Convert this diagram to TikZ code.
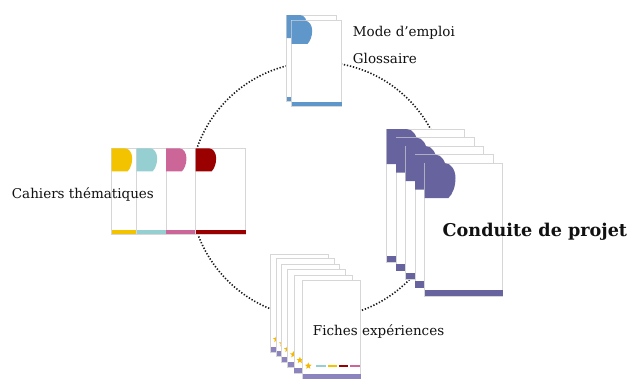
\documentclass[tikz,border=0pt]{standalone}
\usepackage{fontspec}
\setmainfont{DejaVu Serif}
\usetikzlibrary{shapes.geometric}
\definecolor{pageline}{HTML}{D6D6D6}
\definecolor{blueglo}{HTML}{6097CB}
\definecolor{conduite}{HTML}{67639F}
\definecolor{fichebar}{HTML}{8B84BF}
\definecolor{cyellow}{HTML}{F4C300}
\definecolor{ccyan}{HTML}{96CFD1}
\definecolor{cpink}{HTML}{CC6699}
\definecolor{cred}{HTML}{9B0000}
\definecolor{staryellow}{HTML}{F2B705}
\definecolor{txt}{HTML}{111111}
\newcommand{\docpage}[4]{\filldraw[pagebox] (#1,#2) rectangle ++(#3,#4);}
\newcommand{\doctab}[4]{\begin{scope}[shift={(#1,#2)},scale=#3]\fill[#4] (0,0) -- (20,0) .. controls (26.5,0) and (31,7) .. (31,15) .. controls (31,24) and (28,31) .. (24,35) -- (0,35) -- cycle;\end{scope}}
\tikzset{
  pagebox/.style={draw=pageline, fill=white, line width=0.6pt},
  label/.style={inner sep=0pt, anchor=base west, text=txt, font=\fontsize{13.5}{16}\selectfont},
  ring/.style={draw=black!90, line width=1.6pt, dash pattern=on 1.3pt off 1.8pt},
  starmark/.style={star, star points=5, star point ratio=2.3, fill=staryellow, inner sep=0pt, minimum size=7pt}
}
\begin{document}
\begin{tikzpicture}[x=1pt,y=-1pt]
\useasboundingbox (0,0) rectangle (631,380);
\fill[white] (0,0) rectangle (631,380);
% dotted cycle
\draw[ring] (318,190) circle[radius=128];
% top documents
\docpage{286.7}{15}{50}{86}
\fill[blueglo] (286.7,97) rectangle ++(50,4);
\doctab{286.7}{15}{0.66}{blueglo}
\docpage{291.7}{20.7}{50}{85.3}
\fill[blueglo] (291.7,101.7) rectangle ++(50,4.3);
\doctab{291.7}{20.7}{0.66}{blueglo}
% cahiers
\foreach \px/\col in {111.7/cyellow,136.7/ccyan,166/cpink,195.7/cred}{
  \docpage{\px}{148.3}{50}{86}
  \fill[\col] (\px,230) rectangle ++(50,4.3);
  \doctab{\px}{148.3}{0.66}{\col}
}
% conduite
\foreach \i in {0,...,4}{
  \pgfmathsetmacro\px{386.5+9.5*\i}
  \pgfmathsetmacro\py{129+8.5*\i}
  \docpage{\px}{\py}{78}{133}
  \doctab{\px}{\py}{1}{conduite}
  \fill[conduite] (\px,\py+126.5) rectangle ++(78,6.5);
}
% fiches
\foreach \px/\py [count=\i] in {270.7/254,276.7/258.3,281.7/264,287.7/269.3,294.3/275,302.7/280.7}{
  \docpage{\px}{\py}{58}{98}
  \fill[fichebar] (\px,\py+93) rectangle ++(58,5);
  \node[starmark] (st\i) at (\px+5.6,\py+85.2) {};
  \fill[ccyan] (\px+13.3,\py+84) rectangle ++(10,2.5);
  \fill[cyellow] (\px+25,\py+84) rectangle ++(9,2.5);
  \fill[cred] (\px+36.3,\py+84) rectangle ++(9,2.5);
  \fill[cpink] (\px+47.3,\py+84) rectangle ++(10,2.5);
}
% labels
\node[label] (mode) at (352.7,36.7) {Mode d’emploi};
\node[label] (glos) at (352.7,63.3) {Glossaire};
\node[label] (cah) at (11.7,198.3) {Cahiers thématiques};
\node[label] (fich) at (312.7,335) {Fiches expériences};
\node[label, font=\bfseries\fontsize{17.6}{21}\selectfont] (cond) at (442.5,236.7) {Conduite de projet};
\end{tikzpicture}
\end{document}
